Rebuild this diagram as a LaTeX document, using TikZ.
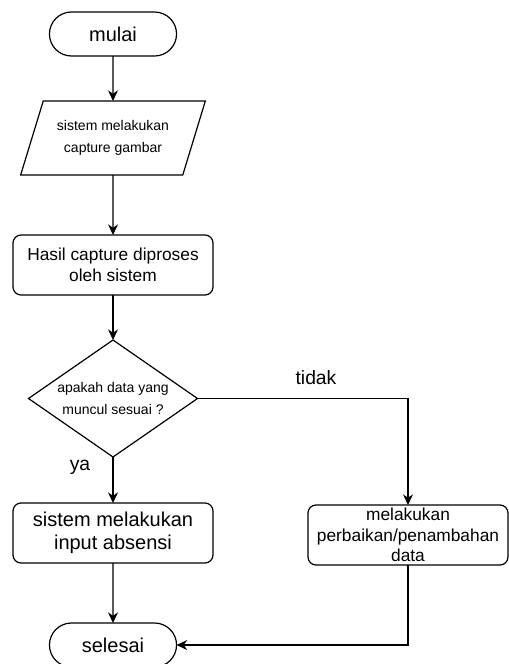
\documentclass[tikz,border=0pt]{standalone}
\usepackage{fontspec}
\setmainfont{Liberation Sans}
\usetikzlibrary{arrows.meta, positioning, shapes.geometric, shapes.misc}

\begin{document}
\begin{tikzpicture}[x=0.75pt, y=-0.75pt, line width=0.9pt,
  terminal/.style={draw, rounded rectangle, minimum width=102pt, minimum height=33pt, outer sep=0pt, font=\fontsize{15}{18}\selectfont},
  inout/.style={draw, trapezium, trapezium left angle=66, trapezium right angle=114, trapezium stretches=true, minimum width=138.75pt, minimum height=55.5pt, outer sep=0pt, align=center, font=\fontsize{10.5}{16.5}\selectfont},
  process/.style={draw, rounded corners=6pt, minimum width=150pt, minimum height=45pt, outer sep=0pt, align=center, font=\fontsize{13}{15.4}\selectfont},
  decision/.style={draw, diamond, aspect=1.44, minimum width=126.75pt, minimum height=87.75pt, inner sep=0pt, outer sep=0pt, align=center, font=\fontsize{10.5}{16.5}\selectfont},
  label/.style={font=\fontsize{14.5}{17}\selectfont},
  arrow/.style={-{Stealth[length=8pt, width=7.5pt]}}]
  \useasboundingbox (0,0) rectangle (508,664);

  % Start and input
  \node[terminal] (mulai) at (113,34) {mulai};
  \node[inout] (capture) at (113,138) {sistem melakukan\\capture gambar};
  \draw[arrow] (mulai) -- (capture);

  % Processing
  \node[process] (hasil) at (113,265) {Hasil capture diproses\\oleh sistem};
  \draw[arrow] (capture) -- (hasil);

  % Check
  \node[decision] (cek) at (113,398.5) {apakah data yang\\muncul sesuai ?};
  \draw[arrow] (hasil) -- (cek);

  % Yes branch
  \node[process, font=\fontsize{15}{17}\selectfont] (absensi) at (113,533) {sistem melakukan\\input absensi};
  \draw[arrow] (cek) -- (absensi);
  \node[label] (ya) at (80,467) {ya};

  % No branch
  \node[process, inner ysep=0pt] (perbaikan) at (408,535) {melakukan\\perbaikan/penambahan\\data};
  \draw[arrow] (cek.east) -| (perbaikan.north);
  \node[label] (tidak) at (316,378) {tidak};

  % End
  \node[terminal] (selesai) at (113,645) {selesai};
  \draw[arrow] (absensi) -- (selesai);
  \draw[arrow] (perbaikan.south) |- (selesai.east);
\end{tikzpicture}
\end{document}
